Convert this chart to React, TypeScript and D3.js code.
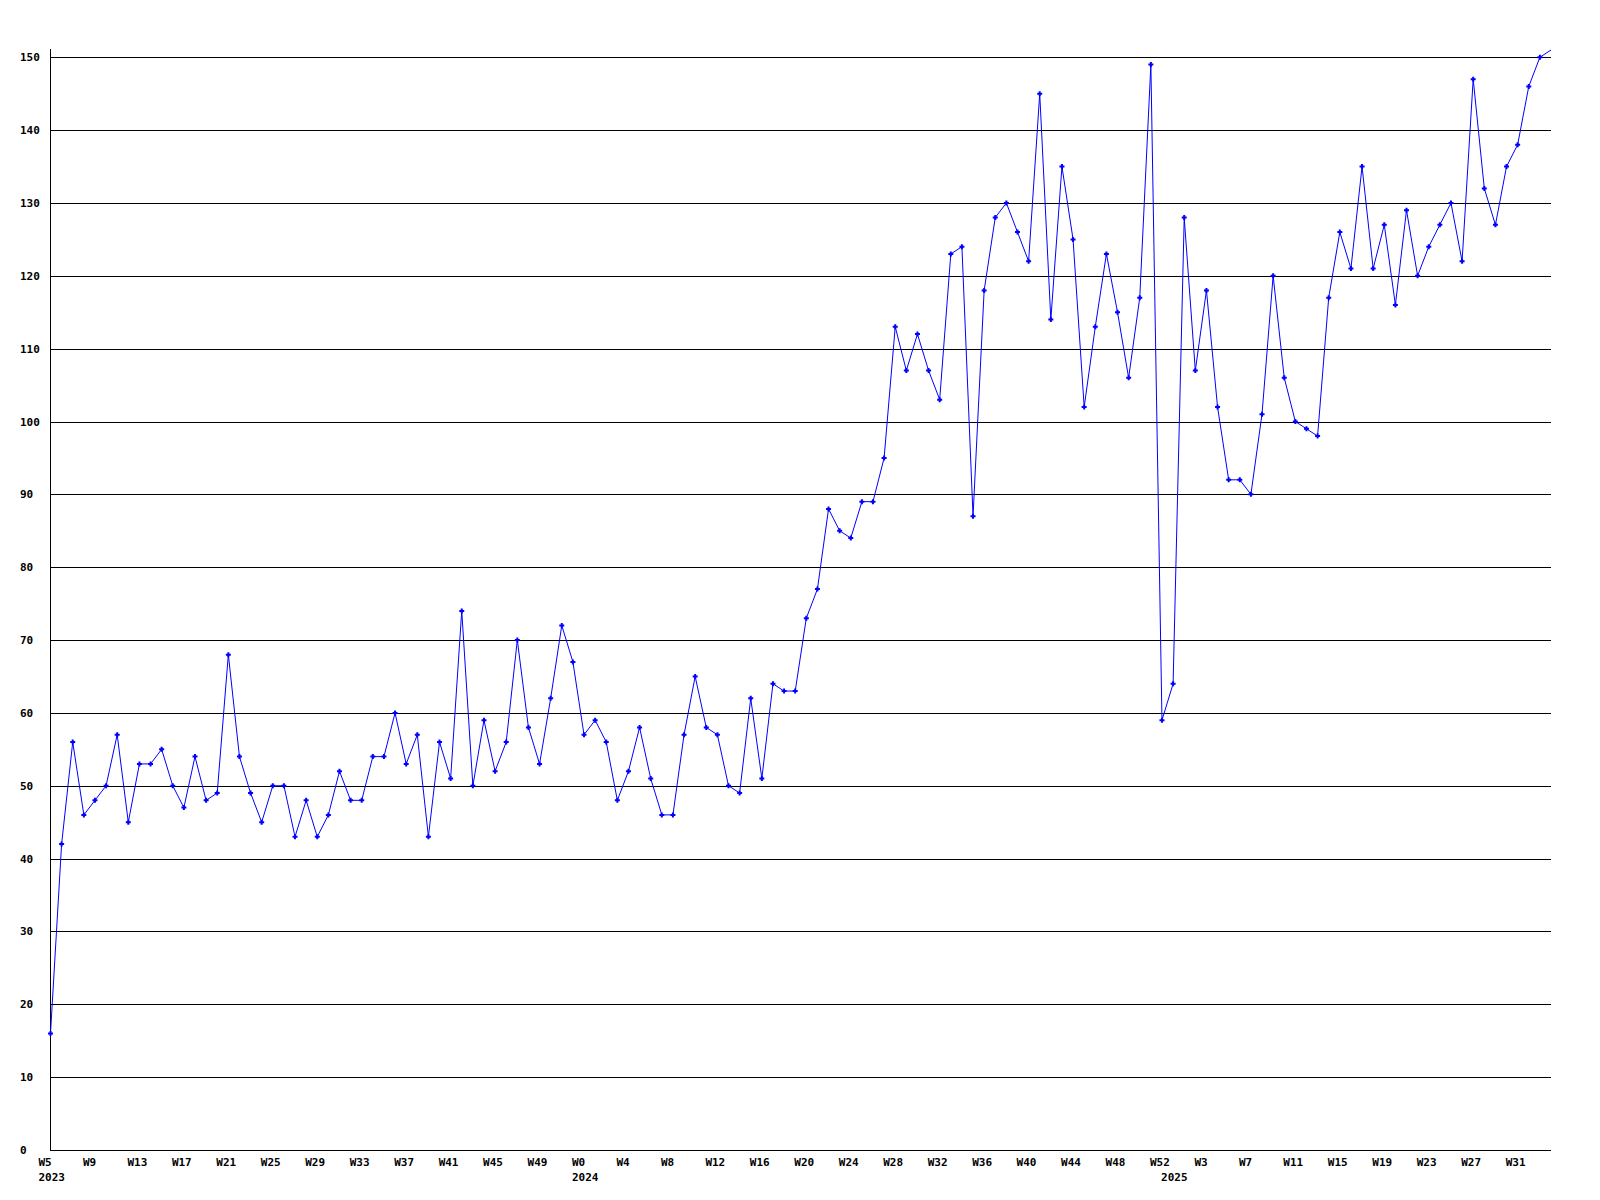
import React from "react";
import * as d3 from "d3";

const values: number[] = [
  16, 42, 56, 46, 48, 50, 57, 45, 53, 53, 55, 50, 47, 54, 48, 49, 68, 54, 49, 45,
  50, 50, 43, 48, 43, 46, 52, 48, 48, 54, 54, 60, 53, 57, 43, 56, 51, 74, 50, 59,
  52, 56, 70, 58, 53, 62, 72, 67, 57, 59, 56, 48, 52, 58, 51, 46, 46, 57, 65, 58,
  57, 50, 49, 62, 51, 64, 63, 63, 73, 77, 88, 85, 84, 89, 89, 95, 113, 107, 112, 107,
  103, 123, 124, 87, 118, 128, 130, 126, 122, 145, 114, 135, 125, 102, 113, 123, 115, 106, 117, 149,
  59, 64, 128, 107, 118, 102, 92, 92, 90, 101, 120, 106, 100, 99, 98, 117, 126, 121, 135, 121,
  127, 116, 129, 120, 124, 127, 130, 122, 147, 132, 127, 135, 138, 146, 150, 151,
];

const weekLabels: string[] = [
  "W5", "W9", "W13", "W17", "W21", "W25", "W29", "W33", "W37", "W41", "W45", "W49",
  "W0", "W4", "W8", "W12", "W16", "W20", "W24", "W28", "W32", "W36", "W40", "W44", "W48", "W52",
  "W3", "W7", "W11", "W15", "W19", "W23", "W27", "W31",
];
// index of the first point of each year
const yearLabels: { at: number; text: string }[] = [
  { at: 0, text: "2023" },
  { at: 48, text: "2024" },
  { at: 101, text: "2025" },
];
const yTicks: number[] = d3.range(0, 151, 10);

const W = 1600;
const H = 1200;
const left = 50.5;
const right = 1551;
const top = 50;
const bottom = 1150;

export default function App() {
  const x = d3.scaleLinear().domain([0, values.length - 1]).range([left, right]);
  const y = d3.scaleLinear().domain([0, d3.max(values) as number]).range([bottom, top]);
  const line = d3
    .line<number>()
    .x((_, i) => x(i))
    .y((d) => y(d));
  const font = "'DejaVu Sans Mono', monospace";
  const marker = "M-1,-2.5h2v1.5h1.5v2h-1.5v1.5h-2v-1.5h-1.5v-2h1.5z";
  return (
    <svg
      width={W}
      height={H}
      style={{ position: "absolute", left: 0, top: 0, background: "#fff" }}
    >
      <rect x={0} y={0} width={W} height={H} fill="#fff" />
      {yTicks.map((t) => (
        <g key={t}>
          <line
            x1={left}
            x2={right}
            y1={Math.round(y(t)) + 0.5}
            y2={Math.round(y(t)) + 0.5}
            stroke="#000"
            strokeWidth={1}
            shapeRendering="crispEdges"
          />
          <text
            x={20}
            y={y(t) + 4}
            fontFamily={font}
            fontWeight="bold"
            fontSize={11}
            fill="#000"
          >
            {t}
          </text>
        </g>
      ))}
      <line
        x1={50.5}
        x2={50.5}
        y1={49}
        y2={bottom + 0.5}
        stroke="#000"
        strokeWidth={1}
        shapeRendering="crispEdges"
      />
      {weekLabels.map((lab, k) => (
        <text
          key={lab + k}
          x={x(k * 4) - 12}
          y={1166}
          fontFamily={font}
          fontWeight="bold"
          fontSize={11}
          fill="#000"
        >
          {lab}
        </text>
      ))}
      {yearLabels.map((yl) => (
        <text
          key={yl.text}
          x={x(yl.at) - 12}
          y={1181}
          fontFamily={font}
          fontWeight="bold"
          fontSize={11}
          fill="#000"
        >
          {yl.text}
        </text>
      ))}
      <path d={line(values) || ""} fill="none" stroke="#0000ff" strokeWidth={1} />
      {values.slice(0, values.length - 1).map((v, i) => (
        <path
          key={i}
          d={marker}
          transform={`translate(${x(i)},${y(v)})`}
          fill="#0000ff"
        />
      ))}
    </svg>
  );
}
